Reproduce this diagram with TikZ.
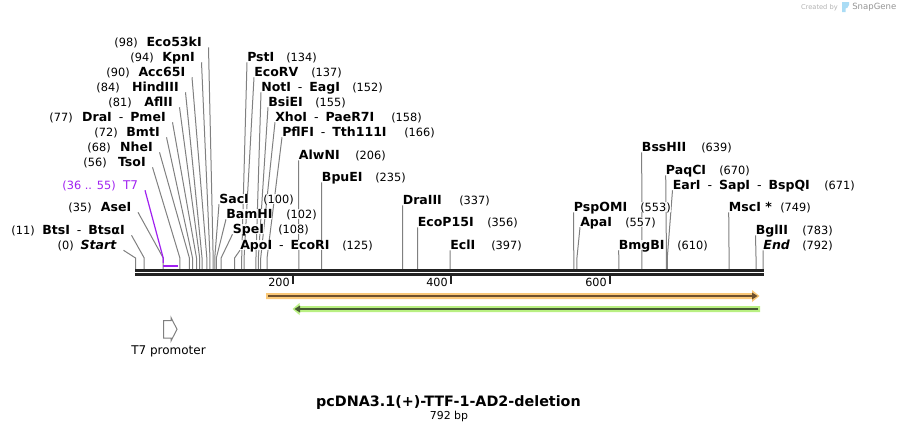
\documentclass[tikz,border=0pt]{standalone}
\usepackage{fontspec}
\setmainfont{DejaVu Sans}
\usetikzlibrary{backgrounds}
\definecolor{sitegray}{RGB}{128,128,128}
\definecolor{barblack}{RGB}{34,34,34}
\definecolor{fpurple}{RGB}{160,32,240}
\definecolor{bandorange}{RGB}{250,200,120}
\definecolor{coreorange}{RGB}{110,80,45}
\definecolor{bandgreen}{RGB}{185,240,130}
\definecolor{coregreen}{RGB}{70,90,50}
\definecolor{logoblue}{RGB}{170,220,245}
\tikzstyle{nm}=[font=\fontsize{9.4}{10}\selectfont\bfseries, inner ysep=0, text height=7pt, text depth=0.5pt, fill=white, fill opacity=0.85, text opacity=1]
\tikzstyle{nml}=[nm, anchor=east, inner xsep=4.9pt, fill=none]
\tikzstyle{nmr}=[nm, anchor=west, inner xsep=0]
\tikzstyle{num}=[font=\fontsize{8.5}{10}\selectfont, inner sep=0, text height=7pt, text depth=0.5pt, fill=white, fill opacity=0.85, text opacity=1]
\tikzstyle{site}=[draw=sitegray, line width=0.75pt]
\tikzstyle{tk}=[draw=barblack, line width=1.5pt]
\tikzstyle{scl}=[font=\fontsize{8.4}{10}\selectfont, inner sep=0, anchor=east]
\newcommand{\dsh}{\hspace{5.2pt}\textmd{-}\hspace{5.2pt}}
\begin{document}
\begin{tikzpicture}[x=0.75pt,y=-0.75pt]
\useasboundingbox (0,0) rectangle (899,432);
\foreach \i/\p/\x/\y/\t/\n/\m in {
0/0/117/245/{\textit{Start}}/{(0)}/74,
1/11/125/230/{BtsI\dsh BtsαI}/{(11)}/35,
2/35/131.5/207/{AseI}/{(35)}/92,
3/56/146/162/{TsoI}/{(56)}/107,
4/68/153/147/{NheI}/{(68)}/111,
5/72/160/132/{BmtI}/{(72)}/118,
6/77/166/117/{DraI\dsh PmeI}/{(77)}/73,
7/81/173/102/{AflII}/{(81)}/132,
8/84/179/87/{HindIII}/{(84)}/120,
9/90/185.5/72/{Acc65I}/{(90)}/130,
10/94/195/57/{KpnI}/{(94)}/154,
11/98/202/42/{Eco53kI}/{(98)}/138}{
\node[nml] (s\i) at (\x+6.5,\y) {\t};
\node[num,anchor=east] (n\i) at (\m,\y) {\n};
\coordinate (k\i) at (135.5+0.7925*\p,258);
\coordinate (b\i) at (135.5+0.7925*\p,269);
\begin{scope}[on background layer]
\draw[site] (s\i.south east)--(k\i)--(b\i);
\end{scope}
}
\foreach \i/\p/\x/\y/\t/\n/\m in {
12/100/219/199/{SacI}/{(100)}/263,
13/102/226/214/{BamHI}/{(102)}/286,
14/108/232.5/229/{SpeI}/{(108)}/278,
15/125/240/245/{ApoI\dsh EcoRI}/{(125)}/342,
16/134/247/57/{PstI}/{(134)}/286,
17/137/254/72/{EcoRV}/{(137)}/311,
18/152/261/87/{NotI\dsh EagI}/{(152)}/352,
19/155/268/102/{BsiEI}/{(155)}/315,
20/158/275/117/{XhoI\dsh PaeR7I}/{(158)}/391,
21/166/282/132/{PflFI\dsh Tth111I}/{(166)}/404,
22/206/298.7/155/{AlwNI}/{(206)}/355,
23/235/321.7/177/{BpuEI}/{(235)}/375,
24/337/402.6/200/{DraIII}/{(337)}/459,
25/356/417.6/222/{EcoP15I}/{(356)}/487,
26/397/450/245/{EclI}/{(397)}/491,
27/553/573.7/207/{PspOMI}/{(553)}/640,
28/557/580/222/{ApaI}/{(557)}/625,
29/610/618.5/245/{BmgBI}/{(610)}/677,
30/639/641.7/147/{BssHII}/{(639)}/701,
31/670/665.7/170/{PaqCI}/{(670)}/719,
32/671/672.5/185/{EarI\dsh SapI\dsh BspQI}/{(671)}/824,
33/749/728.7/207/{MscI *}/{(749)}/780,
34/783/755.5/230/{BglII}/{(783)}/802,
35/792/763.2/245/{\textit{End}}/{(792)}/802}{
\node[nmr] (s\i) at (\x,\y) {\t};
\node[num,anchor=west] (n\i) at (\m,\y) {\n};
\coordinate (k\i) at (135.5+0.7925*\p,258);
\coordinate (b\i) at (135.5+0.7925*\p,269);
\begin{scope}[on background layer]
\draw[site] (s\i.south west)--(k\i)--(b\i);
\end{scope}
}
\node[num,anchor=east,text=fpurple,fill=none] (t7n) at (116,185) {(36 .. 55)};
\node[num,anchor=east,text=fpurple,fill=none,font=\fontsize{9}{10}\selectfont,inner xsep=5pt] (t7a) at (145,185) {T7};
\coordinate (t7k) at (163.2,258);
\coordinate (t7l) at (163,266);
\coordinate (t7r) at (178,266);
\draw[fpurple,line width=0.9pt] (t7a.south east)--(t7k)--(163.2,263);
\draw[fpurple,line width=1.5pt] (t7l)--(t7r);
\fill[barblack] (135,269) rectangle (763.5,272.2);
\fill[barblack] (135,273.4) rectangle (763.5,276);
\foreach \x/\t in {293/200,451/400,610/600}{
\coordinate (u\t) at (\x,276);
\coordinate (v\t) at (\x,284);
\draw[tk] (u\t)--(v\t);
\node[scl] (l\t) at (\x-3,282.5) {\t};
}
\fill[bandorange] (266,293)--(752,293)--(752,290)--(759.5,296)--(752,302)--(752,299)--(266,299)--cycle;
\draw[coreorange,line width=1.5pt] (268,296)--(753,296);
\fill[coreorange] (752,292.5)--(757.5,296)--(752,299.5)--cycle;
\fill[bandgreen] (760,306)--(299.5,306)--(299.5,303)--(292.5,309)--(299.5,315)--(299.5,312)--(760,312)--cycle;
\draw[coregreen,line width=1.5pt] (758,309)--(300,309);
\fill[coregreen] (300,305.5)--(294.5,309)--(300,312.5)--cycle;
\draw[sitegray,line width=0.75pt] (163.5,320.5)--(171,320.5)--(171,317.5)--(177,329.3)--(171,341)--(171,338)--(163.5,338)--cycle;
\node[font=\fontsize{9}{10}\selectfont,inner sep=0,fill=white] (t7p) at (168.5,351) {T7 promoter};
\node[font=\fontsize{10.75}{12}\selectfont\bfseries,inner sep=0] (ttl) at (448.5,402.5) {pcDNA3.1(+)-TTF-1-AD2-deletion};
\node[font=\fontsize{8.2}{10}\selectfont,inner sep=0] (bp) at (449,416) {792 bp};
\node[font=\fontsize{5}{7}\selectfont,text=black!30,inner sep=0,anchor=east] (crt) at (838,7.5) {Created by};
\node[font=\fontsize{6.4}{9}\selectfont,text=black!42,inner sep=0,anchor=west] (snp) at (852,7.5) {SnapGene};
\fill[logoblue] (842,2)--(849,2)--(849,5)..controls (849,8) and (846,8) .. (845.5,8.5)--(845.5,12)--(842,12)--cycle;
\end{tikzpicture}
\end{document}
